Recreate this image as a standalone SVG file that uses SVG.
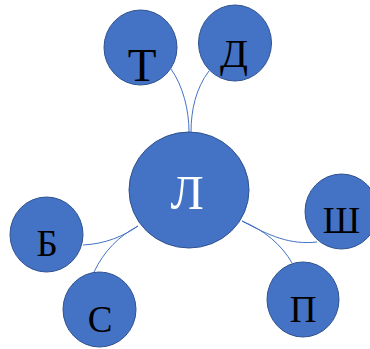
<svg xmlns="http://www.w3.org/2000/svg" width="370" height="349" viewBox="0 0 370 349">
<style>
.n{fill:#4472C4;stroke:#2F528F;stroke-width:1}
.t{font-family:"Liberation Serif","Times New Roman",serif;text-anchor:middle;fill:#000}
.c{fill:none;stroke:#4472C4;stroke-width:1}
</style>
<rect width="370" height="349" fill="#fff"/>
<g id="connectors">
<path class="c" d="M171,69 C183,86 189,110 189,132"/>
<path class="c" d="M209,71 C196,88 191,110 191,132"/>
<path class="c" d="M83,245 C105,244 124,236 138,226"/>
<path class="c" d="M94,272 C104,251 119,236 138,226"/>
<path class="c" d="M242,221 C270,236 290,245 317,242"/>
<path class="c" d="M242,221 C264,230 282,245 292,263"/>
</g>
<g id="node-L">
<ellipse class="n" cx="189" cy="190" rx="60" ry="58"/>
<text class="t" x="187" y="209" font-size="49" style="fill:#fff">Л</text>
</g>
<g id="node-T">
<ellipse class="n" cx="140.5" cy="47.5" rx="36.5" ry="37.5"/>
<text class="t" x="142" y="81" font-size="47">Т</text>
</g>
<g id="node-D">
<ellipse class="n" cx="235" cy="43" rx="36.5" ry="38"/>
<text class="t" x="234" y="67" font-size="41">Д</text>
</g>
<g id="node-B">
<ellipse class="n" cx="46.5" cy="234.5" rx="36.5" ry="37.5"/>
<text class="t" x="47" y="256" font-size="37">Б</text>
</g>
<g id="node-S">
<ellipse class="n" cx="99.5" cy="309.5" rx="36.5" ry="37.5"/>
<text class="t" x="100" y="332" font-size="37">С</text>
</g>
<g id="node-Sh">
<ellipse class="n" cx="341.5" cy="211.5" rx="36.5" ry="37.5"/>
<text class="t" x="341.5" y="233" font-size="37">Ш</text>
</g>
<g id="node-P">
<ellipse class="n" cx="303" cy="299.5" rx="36" ry="37.5"/>
<text class="t" x="303" y="321.5" font-size="37">П</text>
</g>
</svg>
